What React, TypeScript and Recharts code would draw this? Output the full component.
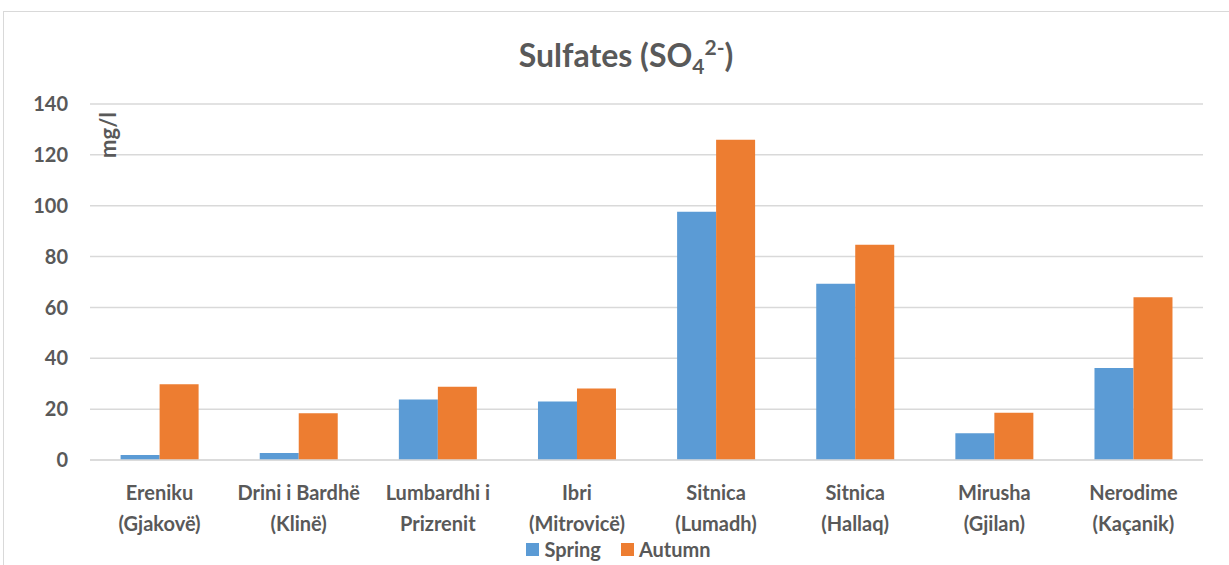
import { BarChart, Bar, XAxis, YAxis, CartesianGrid, Legend } from "recharts";

const sites = [
  "Ereniku\n(Gjakovë)",
  "Drini i Bardhë\n(Klinë)",
  "Lumbardhi i\nPrizrenit",
  "Ibri\n(Mitrovicë)",
  "Sitnica\n(Lumadh)",
  "Sitnica\n(Hallaq)",
  "Mirusha\n(Gjilan)",
  "Nerodime\n(Kaçanik)",
];
const spring = [2, 2.8, 23.8, 23, 97.6, 69.3, 10.5, 36.2];
const autumn = [29.8, 18.4, 28.8, 28.1, 125.9, 84.6, 18.6, 64];
const yTicks = [0, 20, 40, 60, 80, 100, 120, 140];

const data = sites.map((site, i) => ({
  site,
  spring: spring[i],
  autumn: autumn[i],
}));

const FONT = "Lato, 'Open Sans', sans-serif";
const TEXT = "#595959";
const GRID = "#D9D9D9";
const BLUE = "#5B9BD5";
const ORANGE = "#ED7D31";

const SiteTick = ({ x, y, payload }: any) => {
  const lines = String(payload.value).split("\n");
  return (
    <text
      x={x}
      y={y}
      textAnchor="middle"
      fill={TEXT}
      fontFamily={FONT}
      fontSize={20}
      fontWeight={700}
    >
      {lines.map((line, i) => (
        <tspan key={i} x={x} dy={i === 0 ? 32 : 31}>
          {line}
        </tspan>
      ))}
    </text>
  );
};

const UnitLabel = ({ viewBox }: any) => (
  <text
    x={0}
    y={0}
    transform={`translate(${viewBox.x + viewBox.width + 26}, ${viewBox.y + 31}) rotate(-90)`}
    textAnchor="middle"
    fill={TEXT}
    fontFamily={FONT}
    fontSize={22}
    fontWeight={700}
  >
    mg/l
  </text>
);

const LegendBox = () => (
  <div
    style={{
      display: "flex",
      justifyContent: "center",
      gap: 20,
      fontFamily: FONT,
      fontSize: 20,
      fontWeight: 700,
      color: TEXT,
      paddingLeft: 34,
    }}
  >
    {[
      { name: "Spring", color: BLUE },
      { name: "Autumn", color: ORANGE },
    ].map((item) => (
      <span key={item.name} style={{ display: "flex", alignItems: "center" }}>
        <span
          style={{
            width: 13,
            height: 13,
            background: item.color,
            display: "inline-block",
            marginRight: 5,
          }}
        />
        {item.name}
      </span>
    ))}
  </div>
);

export default function App() {
  return (
    <div
      style={{
        position: "absolute",
        left: 0,
        top: 0,
        width: 1229,
        height: 565,
        overflow: "hidden",
        background: "#fff",
      }}
    >
      <div
        style={{
          position: "absolute",
          left: 3,
          top: 11,
          width: 1260,
          height: 600,
          border: `1.5px solid ${GRID}`,
        }}
      />
      <div
        style={{
          position: "absolute",
          top: 34,
          left: 0,
          width: 1252,
          textAlign: "center",
          fontFamily: FONT,
          fontSize: 32,
          fontWeight: 700,
          color: TEXT,
        }}
      >
        Sulfates (SO<sub style={{ fontSize: 21 }}>4</sub>
        <sup style={{ fontSize: 21 }}>2-</sup>)
      </div>
      <div style={{ position: "absolute", left: 0, top: 0 }}>
        <BarChart
          width={1229}
          height={565}
          data={data}
          margin={{ top: 104, right: 26, left: 0, bottom: 0 }}
          barCategoryGap="22%"
          barGap={0}
        >
          <CartesianGrid vertical={false} stroke={GRID} strokeWidth={1.5} />
          <XAxis
            dataKey="site"
            axisLine={{ stroke: GRID, strokeWidth: 1.5 }}
            tickLine={false}
            tick={<SiteTick />}
            height={80}
            interval={0}
          />
          <YAxis
            domain={[0, 140]}
            ticks={yTicks}
            width={90}
            axisLine={false}
            tickLine={false}
            tickSize={0}
            tickMargin={22}
            tick={{ fill: TEXT, fontFamily: FONT, fontSize: 20, fontWeight: 700 }}
            label={<UnitLabel />}
          />
          <Legend
            verticalAlign="bottom"
            height={25}
            content={<LegendBox />}
            wrapperStyle={{ bottom: 3 }}
          />
          <Bar dataKey="spring" name="Spring" fill={BLUE} isAnimationActive={false} />
          <Bar dataKey="autumn" name="Autumn" fill={ORANGE} isAnimationActive={false} />
        </BarChart>
      </div>
    </div>
  );
}
